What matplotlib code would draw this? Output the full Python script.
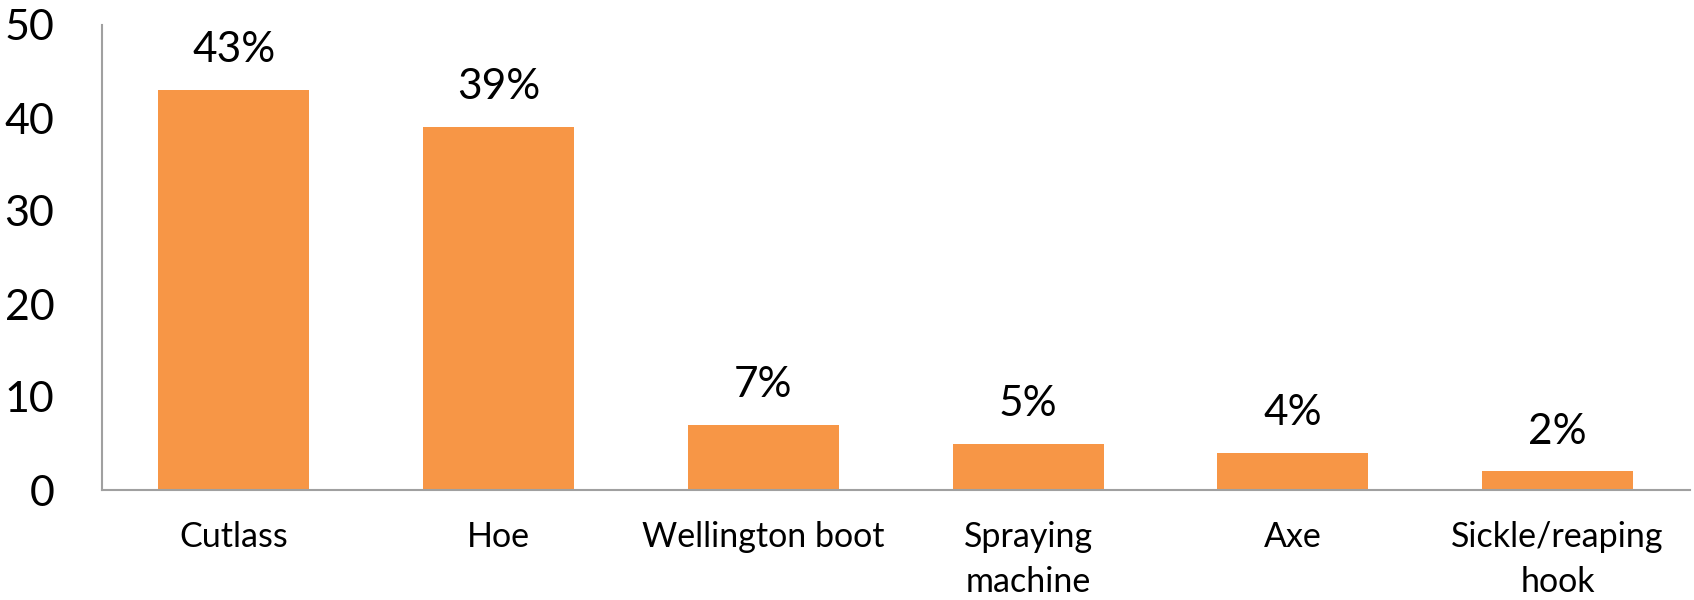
import matplotlib
matplotlib.use("Agg")
import matplotlib.pyplot as plt

categories = ["Cutlass", "Hoe", "Wellington boot", "Spraying\nmachine", "Axe", "Sickle/reaping\nhook"]
values = [43, 39, 7, 5, 4, 2]
labels = ["43%", "39%", "7%", "5%", "4%", "2%"]
yticks = [0, 10, 20, 30, 40, 50]

plt.rcParams['font.family'] = ['Lato', 'DejaVu Sans']

fig = plt.figure(figsize=(16.94, 6.0), dpi=100)
ax = fig.add_axes([101.5/1694, 1 - 490/600, (1690 - 101.5)/1694, (490 - 25)/600])

x = list(range(len(categories)))
ax.bar(x, values, width=0.57, color="#F79646", zorder=2)
ax.set_xlim(-0.5, len(categories) - 0.5)
ax.set_ylim(0, 50)
ax.set_yticks(yticks)
ax.set_yticklabels([str(t) for t in yticks], fontsize=31)
ax.set_xticks(x)
ax.set_xticklabels(categories, fontsize=24.5, linespacing=1.5)
ax.tick_params(axis='y', length=0, pad=34)
ax.tick_params(axis='x', length=0, pad=22)

for s in ["top", "right"]:
    ax.spines[s].set_visible(False)
for s in ["left", "bottom"]:
    ax.spines[s].set_color("#A0A0A0")
    ax.spines[s].set_linewidth(1.5)

for xi, v, lab in zip(x, values, labels):
    ax.annotate(lab, (xi, v), xytext=(0, 15), textcoords="offset points",
                ha="center", va="bottom", fontsize=30.5)

fig.savefig("out.png", dpi=100)
